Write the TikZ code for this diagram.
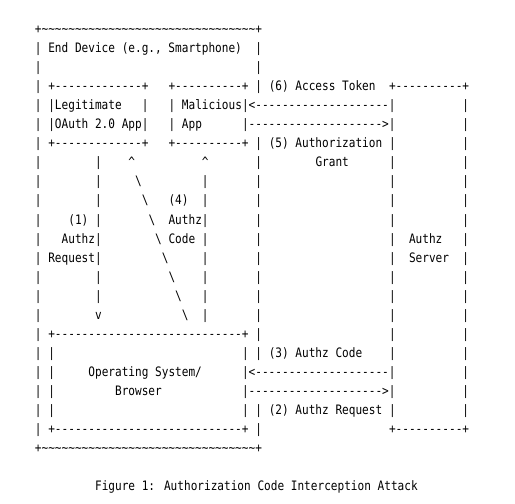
\documentclass[tikz,border=0pt]{standalone}
\usepackage{fontspec}
\newfontfamily\asciimono[FakeStretch=0.853,Ligatures=TeXOff]{DejaVu Sans Mono}
\ExplSyntaxOn
\cs_new:Npn \myrep #1#2 { \prg_replicate:nn {#1} {#2} }
\ExplSyntaxOff
\newcommand\bs{\textbackslash}
\newcommand\up{\textasciicircum}
\tikzset{
  txt/.style={anchor=base west, inner sep=0pt, outer sep=0pt,
    font=\asciimono\fontsize{13}{15}\selectfont, text=black}
}
% \sg{row}{col}{text}
\newcommand\sg[3]{\node[txt] (r#1c#2) at ({34.96+6.68*(#2)},{33.5+19.05*(#1)}) {#3};}
\begin{document}
\begin{tikzpicture}[x=1pt,y=-1pt]
\useasboundingbox[fill=white] (0,0) rectangle (515,504);
% row 0
\sg{0}{0}{+\myrep{32}{\textasciitilde}+}
% row 1
\sg{1}{0}{|}\sg{1}{2}{End Device (e.g., Smartphone)}\sg{1}{33}{|}
% row 2
\sg{2}{0}{|}\sg{2}{33}{|}
% row 3
\sg{3}{0}{|}\sg{3}{2}{+\myrep{13}{-}+}\sg{3}{20}{+\myrep{10}{-}+}\sg{3}{33}{|}
\sg{3}{35}{(6) Access Token}\sg{3}{53}{+\myrep{10}{-}+}
% row 4
\sg{4}{0}{|}\sg{4}{2}{|Legitimate}\sg{4}{16}{|}\sg{4}{20}{|}
\sg{4}{22}{Malicious|<\myrep{20}{-}|}\sg{4}{64}{|}
% row 5
\sg{5}{0}{|}\sg{5}{2}{|OAuth 2.0 App|}\sg{5}{20}{|}\sg{5}{22}{App}
\sg{5}{31}{|\myrep{20}{-}>|}\sg{5}{64}{|}
% row 6
\sg{6}{0}{|}\sg{6}{2}{+\myrep{13}{-}+}\sg{6}{20}{+\myrep{10}{-}+}\sg{6}{33}{|}
\sg{6}{35}{(5) Authorization}\sg{6}{53}{|}\sg{6}{64}{|}
% row 7
\sg{7}{0}{|}\sg{7}{9}{|}\sg{7}{14}{\up}\sg{7}{25}{\up}\sg{7}{33}{|}
\sg{7}{42}{Grant}\sg{7}{53}{|}\sg{7}{64}{|}
% rows 8-15
\foreach \r in {8,...,15}{
  \sg{\r}{0}{|}
  \sg{\r}{25}{|}\sg{\r}{33}{|}\sg{\r}{53}{|}\sg{\r}{64}{|}
  \pgfmathtruncatemacro\bc{7+\r}
  \sg{\r}{\bc}{\bs}
}
\foreach \r in {8,...,14}{\sg{\r}{9}{|}}
\sg{15}{9}{v}
\sg{9}{20}{(4)}
\sg{10}{5}{(1)}\sg{10}{20}{Authz}
\sg{11}{4}{Authz}\sg{11}{20}{Code}\sg{11}{56}{Authz}
\sg{12}{2}{Request}\sg{12}{56}{Server}
% row 16
\sg{16}{0}{|}\sg{16}{2}{+\myrep{28}{-}+}\sg{16}{33}{|}\sg{16}{53}{|}\sg{16}{64}{|}
% row 17
\sg{17}{0}{|}\sg{17}{2}{|}\sg{17}{31}{|}\sg{17}{33}{|}
\sg{17}{35}{(3) Authz Code}\sg{17}{53}{|}\sg{17}{64}{|}
% row 18
\sg{18}{0}{|}\sg{18}{2}{|}\sg{18}{8}{Operating System/}
\sg{18}{31}{|<\myrep{20}{-}|}\sg{18}{64}{|}
% row 19
\sg{19}{0}{|}\sg{19}{2}{|}\sg{19}{12}{Browser}
\sg{19}{31}{|\myrep{20}{-}>|}\sg{19}{64}{|}
% row 20
\sg{20}{0}{|}\sg{20}{2}{|}\sg{20}{31}{|}\sg{20}{33}{|}
\sg{20}{35}{(2) Authz Request}\sg{20}{53}{|}\sg{20}{64}{|}
% row 21
\sg{21}{0}{|}\sg{21}{2}{+\myrep{28}{-}+}\sg{21}{33}{|}\sg{21}{53}{+\myrep{10}{-}+}
% row 22
\sg{22}{0}{+\myrep{32}{\textasciitilde}+}
% caption
\sg{24}{9}{Figure 1: Authorization Code Interception Attack}
\end{tikzpicture}
\end{document}
